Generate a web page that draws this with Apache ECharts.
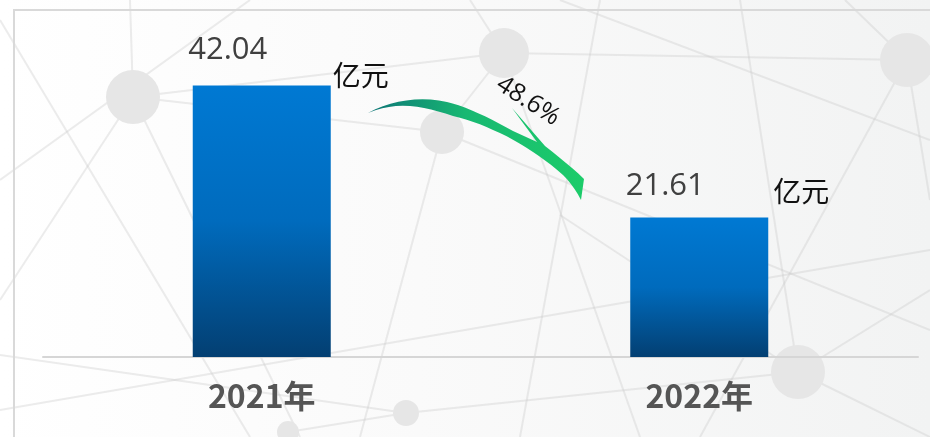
<!DOCTYPE html>
<html>
<head>
<meta charset="utf-8">
<script src="https://cdn.jsdelivr.net/npm/echarts@6/dist/echarts.min.js"></script>
<style>
  html, body { margin: 0; padding: 0; }
  #chart {
    width: 930px;
    height: 437px;
    background: linear-gradient(90deg, #ffffff 0%, #fafafa 45%, #f2f3f3 100%);
  }
</style>
</head>
<body>
<div id="chart"></div>
<script>
// 数据
const years = ['2021年', '2022年']
const revenue = [42.04, 21.61]
const unitText = '亿元'
const dropRate = '48.6%'

const chart = echarts.init(document.getElementById('chart'))

function linear(x2, y2, stops) {
  return { type: 'linear', x: 0, y: 0, x2: x2, y2: y2, colorStops: stops }
}

// 三次贝塞尔取点
function bezier(p0, p1, p2, p3, n) {
  const pts = []
  for (let i = 1; i <= n; i++) {
    const t = i / n, u = 1 - t
    pts.push([
      u * u * u * p0[0] + 3 * u * u * t * p1[0] + 3 * u * t * t * p2[0] + t * t * t * p3[0],
      u * u * u * p0[1] + 3 * u * u * t * p1[1] + 3 * u * t * t * p2[1] + t * t * t * p3[1]
    ])
  }
  return pts
}

// 背景网络装饰（节点 + 连线）
const nodes = [
  [133, 97, 27], [442, 132, 22], [504, 53, 25], [907, 60, 27],
  [798, 372, 27], [406, 413, 13], [288, 432, 11]
]
const links = [
  [[130, 0], [133, 97]], [[133, 97], [442, 132]], [[133, 97], [504, 53]],
  [[133, 97], [0, 300]], [[133, 97], [300, 437]], [[442, 132], [504, 53]],
  [[442, 132], [360, 437]], [[442, 132], [930, 330]], [[504, 53], [470, 0]],
  [[504, 53], [907, 60]], [[504, 53], [640, 437]], [[907, 60], [930, 200]],
  [[907, 60], [700, 437]], [[907, 60], [845, 0]], [[798, 372], [930, 290]],
  [[798, 372], [740, 0]], [[798, 372], [560, 215]], [[798, 372], [930, 437]],
  [[798, 372], [406, 413]], [[406, 413], [0, 355]], [[406, 413], [288, 432]],
  [[0, 20], [250, 437]], [[560, 0], [930, 140]], [[0, 180], [250, 0]],
  [[600, 0], [520, 437]], [[0, 410], [930, 250]]
]

const bgGraphics = []
links.forEach(l => {
  bgGraphics.push({
    type: 'line', z: -10, silent: true,
    shape: { x1: l[0][0], y1: l[0][1], x2: l[1][0], y2: l[1][1] },
    style: { stroke: 'rgba(200,200,200,0.35)', lineWidth: 2 }
  })
})
nodes.forEach(n => {
  bgGraphics.push({
    type: 'circle', z: -9, silent: true,
    shape: { cx: n[0], cy: n[1], r: n[2] },
    style: { fill: '#e6e6e6' }
  })
})

// 外框
bgGraphics.push({
  type: 'rect', z: -8, silent: true,
  shape: { x: 14, y: 10, width: 940, height: 460 },
  style: { fill: 'none', stroke: '#d9d9d9', lineWidth: 2 }
})

// 下降箭头（多边形）
let arrowPts = [[368, 113]]
arrowPts = arrowPts.concat(bezier([368, 113], [392, 100], [420, 96], [447, 102], 10))
arrowPts = arrowPts.concat(bezier([447, 102], [465, 106], [490, 118], [513, 131], 10))
arrowPts.push([537, 142], [512, 108], [545, 146])
arrowPts = arrowPts.concat(bezier([545, 146], [560, 158], [573, 168], [584, 179], 6))
arrowPts.push([581, 200])
arrowPts = arrowPts.concat(bezier([581, 200], [576, 190], [570, 182], [563, 175], 5))
arrowPts = arrowPts.concat(bezier([563, 175], [552, 165], [543, 159], [533, 152], 5))
arrowPts = arrowPts.concat(bezier([533, 152], [520, 143], [507, 136], [493, 130], 6))
arrowPts = arrowPts.concat(bezier([493, 130], [480, 124], [467, 119], [453, 116], 6))
arrowPts = arrowPts.concat(bezier([453, 116], [438, 111], [424, 107], [410, 106], 6))
arrowPts = arrowPts.concat(bezier([410, 106], [395, 105], [383, 107], [368, 113], 6))

const arrowGraphics = [
  {
    type: 'polygon', z: 50,
    shape: { points: arrowPts },
    style: {
      fill: linear(1, 0, [
        { offset: 0, color: '#0d7577' },
        { offset: 0.45, color: '#18b872' },
        { offset: 1, color: '#1ccc6a' }
      ])
    }
  },
  {
    type: 'text', z: 51,
    x: 528, y: 101,
    rotation: -33 * Math.PI / 180,
    style: {
      text: dropRate,
      fill: '#111',
      font: '25px "Open Sans", sans-serif',
      align: 'center',
      verticalAlign: 'middle'
    }
  }
]

const barGradient = linear(0, 1, [
  { offset: 0, color: '#0079d3' },
  { offset: 0.5, color: '#006bbd' },
  { offset: 1, color: '#033f72' }
])

// 数值标签偏移
const valueOffsets = [[-34, -2], [-34, 2]]
const unitOffsets = [[99, 4], [102, -12]]

const option = {
  backgroundColor: 'transparent',
  animation: false,
  grid: { left: 43, right: 12, top: 34, bottom: 80 },
  xAxis: {
    type: 'category',
    data: years,
    axisLine: { lineStyle: { color: '#d6d6d6', width: 2 } },
    axisTick: { show: false },
    axisLabel: {
      margin: 23,
      fontSize: 32,
      fontWeight: 'bold',
      color: '#555555',
      fontFamily: '"Noto Sans CJK SC", sans-serif'
    }
  },
  yAxis: {
    type: 'value',
    min: 0,
    max: 50,
    show: false,
    splitLine: { show: false }
  },
  series: [
    {
      type: 'bar',
      barWidth: 138,
      z: 5,
      itemStyle: { color: barGradient },
      data: revenue.map((v, i) => ({
        value: v,
        label: { offset: valueOffsets[i] }
      })),
      label: {
        show: true,
        position: 'top',
        distance: 18,
        fontSize: 31,
        color: '#404040',
        fontFamily: '"Open Sans", sans-serif',
        formatter: p => p.value.toFixed(2)
      }
    },
    {
      type: 'bar',
      barWidth: 138,
      barGap: '-100%',
      z: 6,
      silent: true,
      itemStyle: { color: 'transparent' },
      data: revenue.map((v, i) => ({
        value: v,
        label: { offset: unitOffsets[i] }
      })),
      label: {
        show: true,
        position: 'top',
        distance: 0,
        fontSize: 28,
        color: '#111111',
        fontFamily: '"Noto Sans CJK SC", sans-serif',
        formatter: () => unitText
      }
    }
  ],
  graphic: bgGraphics.concat(arrowGraphics)
}

chart.setOption(option)
</script>
</body>
</html>
